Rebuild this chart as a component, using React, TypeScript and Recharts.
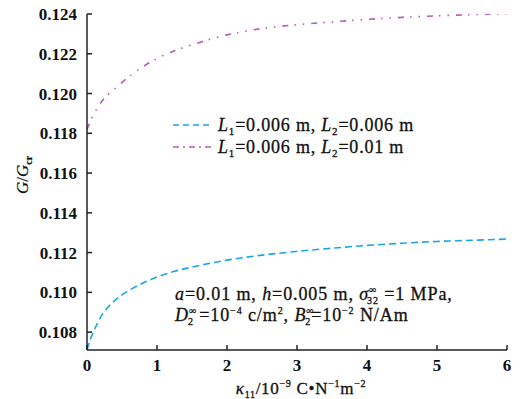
import { LineChart, Line, XAxis, YAxis, Customized, Label } from 'recharts'

// kappa_11 values (10^-9 C N^-1 m^-2)
const kappa = [0, 0.05, 0.1, 0.2, 0.3, 0.4, 0.6, 0.8, 1.0, 1.25, 1.5, 2.0, 2.5, 3.0, 3.5, 4.0, 4.5, 5.0, 5.5, 6.0]
// L1=0.006 m, L2=0.006 m
const caseA = [0.1071, 0.10765, 0.10808, 0.10878, 0.10925, 0.1096, 0.1101, 0.11047, 0.11077, 0.11106, 0.11127, 0.11162, 0.11187, 0.11206, 0.11222, 0.11236, 0.11247, 0.11256, 0.11262, 0.11268]
// L1=0.006 m, L2=0.01 m
const caseB = [0.1182, 0.1186, 0.11898, 0.11955, 0.11995, 0.12025, 0.12085, 0.12135, 0.12176, 0.12215, 0.12245, 0.12295, 0.12327, 0.12346, 0.1236, 0.12373, 0.12383, 0.12391, 0.12397, 0.12402]

const xTicks = [0, 1, 2, 3, 4, 5, 6]
const yTicks = [0.108, 0.11, 0.112, 0.114, 0.116, 0.118, 0.12, 0.122, 0.124]

const data = kappa.map((k, i) => ({ k, a: caseA[i], b: caseB[i] }))

const serif = '"Liberation Serif", "Times New Roman", serif'
const blue = '#1aa7e4'
const purple = '#b25eb4'
const axisColor = '#222'
const ink = '#111'

const legendItems = [
  { key: 'a', color: blue, dash: '6 4', l2: '0.006' },
  { key: 'b', color: purple, dash: '6 4 2 4', l2: '0.01' },
]

// legend drawn in svg so it does not take room from the plot
function LegendBox() {
  return (
    <g fontFamily={serif} fontSize={18} letterSpacing={0.8} fill={ink} stroke={ink} strokeWidth={0.3}>
      {legendItems.map((it, i) => {
        const y = 125 + i * 22
        return (
          <g key={it.key}>
            <line x1={173} y1={y} x2={213} y2={y} stroke={it.color} strokeWidth={1.6} strokeDasharray={it.dash} />
            <text x={218} y={y + 6}>
              <tspan fontStyle="italic">L</tspan>
              <tspan fontSize={11} dy={4}>1</tspan>
              <tspan dy={-4}>=0.006 m, </tspan>
              <tspan fontStyle="italic">L</tspan>
              <tspan fontSize={11} dy={4}>2</tspan>
              <tspan dy={-4}>={it.l2} m</tspan>
            </text>
          </g>
        )
      })}
    </g>
  )
}

function Notes() {
  return (
    <g fontFamily={serif} fontSize={18} letterSpacing={0.9} fill={ink} stroke={ink} strokeWidth={0.3}>
      <text x={175} y={300}>
        <tspan fontStyle="italic">a</tspan>
        <tspan>=0.01 m, </tspan>
        <tspan fontStyle="italic">h</tspan>
        <tspan>=0.005 m, </tspan>
        <tspan fontStyle="italic">σ</tspan>
        <tspan fontSize={10} dy={-7}>∞</tspan>
        <tspan fontSize={10} dx={-10} dy={11}>32</tspan>
        <tspan dy={-4}> =1 MPa,</tspan>
      </text>
      <text x={175} y={321}>
        <tspan fontStyle="italic">D</tspan>
        <tspan fontSize={10} dy={-7}>∞</tspan>
        <tspan fontSize={10} dx={-9} dy={11}>2</tspan>
        <tspan dy={-4}> =10</tspan>
        <tspan fontSize={10} dy={-7}>−4</tspan>
        <tspan dy={7}> c/m</tspan>
        <tspan fontSize={10} dy={-7}>2</tspan>
        <tspan dy={7}>, </tspan>
        <tspan fontStyle="italic">B</tspan>
        <tspan fontSize={10} dy={-7}>∞</tspan>
        <tspan fontSize={10} dx={-9} dy={11}>2</tspan>
        <tspan dy={-4}>=10</tspan>
        <tspan fontSize={10} dy={-7}>−2</tspan>
        <tspan dy={7}> N/Am</tspan>
      </text>
    </g>
  )
}

function YTitle() {
  return (
    <text x={28} y={175} transform="rotate(-90 28 175)" textAnchor="middle" fontFamily={serif} fontSize={17} fill={ink} stroke={ink} strokeWidth={0.2}>
      <tspan fontStyle="italic">G</tspan>
      <tspan>/</tspan>
      <tspan fontStyle="italic">G</tspan>
      <tspan fontSize={10} fontWeight="bold" dy={4}>cr</tspan>
    </text>
  )
}

function XTitle() {
  return (
    <text x={301} y={394} textAnchor="middle" fontFamily={serif} fontSize={17} letterSpacing={0.7} fill={ink} stroke={ink} strokeWidth={0.3}>
      <tspan fontStyle="italic">κ</tspan>
      <tspan fontSize={10} dy={4}>11</tspan>
      <tspan dy={-4}>/10</tspan>
      <tspan fontSize={10} dy={-7}>−9</tspan>
      <tspan dy={7}> C•N</tspan>
      <tspan fontSize={10} dy={-7}>−1</tspan>
      <tspan dy={7}>m</tspan>
      <tspan fontSize={10} dy={-7}>−2</tspan>
    </text>
  )
}

export default function App() {
  return (
    <div style={{ position: 'fixed', left: 0, top: 0, background: '#fff' }}>
      <LineChart width={524} height={399} data={data} margin={{ top: 14, right: 17, bottom: 0, left: 0 }}>
        <XAxis
          dataKey="k"
          type="number"
          domain={[0, 6]}
          ticks={xTicks}
          height={49}
          tickSize={-5}
          tickMargin={14}
          stroke={axisColor}
          strokeWidth={1.5}
          tick={{ fontFamily: serif, fontSize: 17, fontWeight: 'bold', fill: ink }}
        />
        <YAxis
          type="number"
          domain={[0.1071, 0.124]}
          ticks={yTicks}
          width={87}
          tickSize={-5}
          tickMargin={15}
          stroke={axisColor}
          strokeWidth={1.5}
          tickFormatter={(v: number) => v.toFixed(3)}
          tick={{ fontFamily: serif, fontSize: 17, fontWeight: 'bold', fill: ink }}
          allowDataOverflow
        >
          <Label content={() => <YTitle />} />
        </YAxis>
        <Line type="monotone" dataKey="a" stroke={blue} strokeWidth={1.6} strokeDasharray="7 4" dot={false} isAnimationActive={false} />
        <Line type="monotone" dataKey="b" stroke={purple} strokeWidth={1.6} strokeDasharray="6 6 1.5 7 1.5 7" dot={false} isAnimationActive={false} />
        <Customized component={LegendBox} />
        <Customized component={Notes} />
        <Customized component={XTitle} />
      </LineChart>
    </div>
  )
}
